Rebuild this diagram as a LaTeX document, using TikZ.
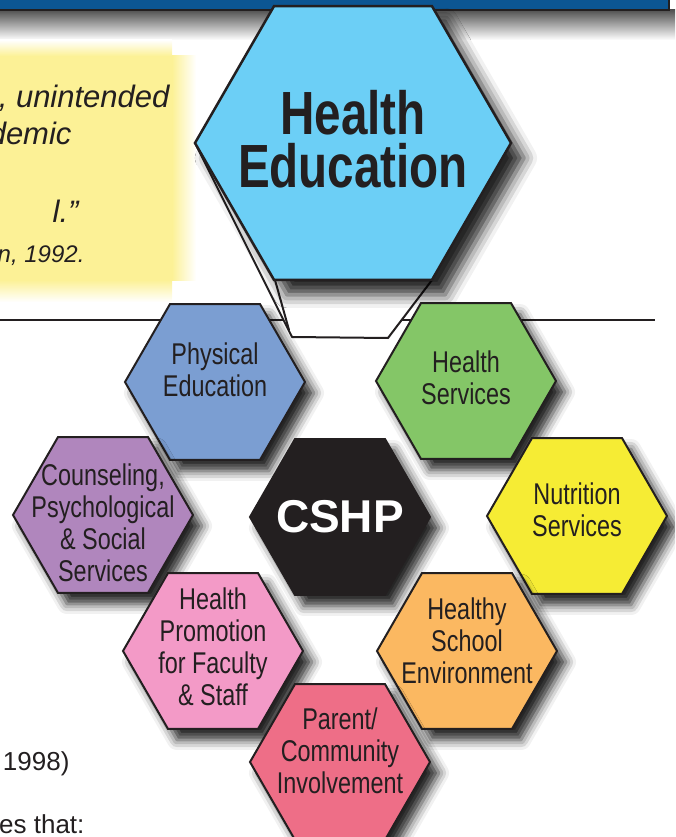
\documentclass[tikz,border=0pt]{standalone}
\usepackage{fontspec}
\setmainfont{Liberation Sans}
\newfontfamily\condfont[FakeStretch=0.78]{Liberation Sans}
\usepackage{xcolor}
\usetikzlibrary{shapes.geometric}
\usetikzlibrary{shadows.blur}
\definecolor{edublue}{RGB}{108,207,246}
\definecolor{physblue}{RGB}{123,158,210}
\definecolor{servgreen}{RGB}{132,198,103}
\definecolor{nutryellow}{RGB}{246,236,52}
\definecolor{envorange}{RGB}{251,184,97}
\definecolor{parentred}{RGB}{238,110,135}
\definecolor{promopink}{RGB}{243,154,199}
\definecolor{counspurple}{RGB}{176,134,189}
\definecolor{inkdark}{RGB}{35,31,32}
\definecolor{headerblue}{RGB}{12,86,147}
\definecolor{quoteyellow}{RGB}{252,241,150}

\begin{document}
\begin{tikzpicture}[
    x=1pt, y=-1pt,
    hexbox/.style={regular polygon, regular polygon sides=6, minimum size=180pt, inner sep=0pt, draw=inkdark, line width=2pt, fill=#1},
    drop/.style={blur shadow={shadow xshift=9pt, shadow yshift=-11pt, shadow blur radius=10pt, shadow opacity=85}},
    bigdrop/.style={blur shadow={shadow xshift=13pt, shadow yshift=-15pt, shadow blur radius=13pt, shadow opacity=85}},
    hextext/.style={font=\condfont\fontsize{30}{32}\selectfont, align=center, text=inkdark},
    quote/.style={font=\itshape\fontsize{31}{37}\selectfont, text=inkdark, anchor=base east},
    side/.style={font=\fontsize{26}{30}\selectfont, text=inkdark, anchor=base east}
]
\useasboundingbox (0,0) rectangle (675,837);
\clip (0,0) rectangle (675,837);

% Header bar
\shade[top color=black!68, bottom color=white] (0,10) rectangle (675,40);
\fill[headerblue] (0,0) rectangle (669,10);
\draw[inkdark, line width=2.5pt] (0,10) -- (669,10) -- (669,0);

% Quote box
\shade[top color=white, bottom color=quoteyellow] (0,40) rectangle (172,56);
\fill[quoteyellow] (0,56) rectangle (172,280);
\shade[left color=quoteyellow, right color=white] (172,56) rectangle (196,280);
\shade[top color=quoteyellow, bottom color=white] (0,280) rectangle (172,302);
\node[quote] (q1) at (173,108) {, unintended};
\node[quote] (q2) at (75,145) {demic};
\node[quote] (q3) at (82,222) {l.”};
\node[quote, font=\itshape\fontsize{24}{28}\selectfont] (q4) at (88,262) {n, 1992.};

% Rule and text below
\draw[inkdark, line width=2.5pt] (0,320) -- (655,320);
\node[side] (year) at (73,770) {1998)};
\node[side] (that) at (88,833) {es that:};

% Slot the big hexagon is pulled out of
\draw[fill=white, draw=inkdark, line width=2pt, line join=round] (195,143) -- (292,337) -- (388,338) -- (432,280) -- (353,143) -- cycle;
\draw[inkdark, line width=2pt] (275,280) -- (289,330);

% Health Education
\node[hexbox=edublue, bigdrop, minimum size=316pt, line width=2.5pt] (healthed) at (353,143) {};
\node[hextext, font=\condfont\bfseries\fontsize{61}{53}\selectfont] (healthed-txt) at (353,139) {Health\\Education};

% Ring around CSHP
\node[hexbox=physblue, drop] (phys) at (215,382) {};
\node[hextext] (phys-txt) at (215,370) {Physical\\Education};
\node[hexbox=servgreen, drop] (serv) at (466,381) {};
\node[hextext] (serv-txt) at (466,378) {Health\\Services};
\node[hexbox=counspurple, drop] (couns) at (103,515) {};
\node[hextext] (couns-txt) at (103,523) {Counseling,\\Psychological\\\& Social\\Services};
\node[hexbox=nutryellow, drop] (nutr) at (577,516) {};
\node[hextext] (nutr-txt) at (577,510) {Nutrition\\Services};

% Centre
\node[hexbox=inkdark, drop] (cshp) at (340,517) {};
\node[font=\bfseries\fontsize{46}{46}\selectfont, text=white] (cshp-txt) at (340,517) {CSHP};

\node[hexbox=promopink, drop] (promo) at (213,651) {};
\node[hextext] (promo-txt) at (213,647) {Health\\Promotion\\for Faculty\\\& Staff};
\node[hexbox=envorange, drop] (env) at (467,651) {};
\node[hextext] (env-txt) at (467,641) {Healthy\\School\\Environment};
\node[hexbox=parentred, drop] (parent) at (340,762) {};
\node[hextext] (parent-txt) at (340,751) {Parent/\\Community\\Involvement};
\end{tikzpicture}
\end{document}
